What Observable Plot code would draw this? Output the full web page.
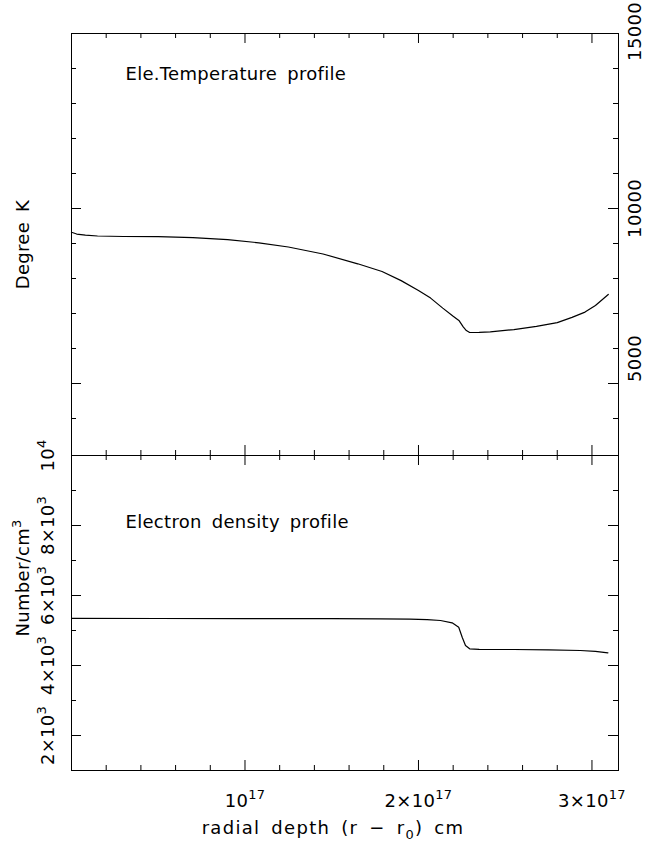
<!DOCTYPE html>
<html><head><meta charset="utf-8">
<script src="https://cdn.jsdelivr.net/npm/d3@7"></script>
<script src="https://cdn.jsdelivr.net/npm/@observablehq/plot@0.6"></script>
<style>
body{margin:0;background:#fff;}
#wrap{width:645px;height:843px;}
#wrap svg{overflow:visible;display:block;}
#wrap text{letter-spacing:0.3px;word-spacing:4px;}
#wrap text.wide{letter-spacing:1.3px;}
</style></head><body><div id="wrap"></div>
<script>
// radial depth in units of 1e17 cm
const tempRadius = [0, 0.03, 0.08, 0.15, 0.3, 0.5, 0.7, 0.9, 1.08, 1.25, 1.45, 1.65, 1.79, 1.9, 2.0, 2.07, 2.14, 2.2, 2.235, 2.258, 2.276, 2.295, 2.35, 2.414, 2.55, 2.68, 2.8, 2.885, 2.96, 3.02, 3.094];
const temperature = [9320, 9270, 9240, 9215, 9200, 9195, 9170, 9110, 9020, 8900, 8700, 8420, 8200, 7940, 7660, 7440, 7154, 6920, 6790, 6620, 6514, 6457, 6462, 6477, 6540, 6630, 6740, 6890, 7040, 7230, 7545];
const densRadius = [0, 0.5, 1.0, 1.5, 1.78, 1.95, 2.05, 2.127, 2.194, 2.232, 2.252, 2.271, 2.295, 2.35, 2.549, 2.75, 2.933, 3.02, 3.092];
const density = [5345, 5343, 5340, 5337, 5334, 5325, 5310, 5286, 5220, 5094, 4809, 4571, 4477, 4462, 4457, 4445, 4429, 4405, 4363];

const xMajor = [1, 2, 3];
const xMinor = [0.2, 0.4, 0.6, 0.8, 1.2, 1.4, 1.6, 1.8, 2.2, 2.4, 2.6, 2.8];
const xLabels = ["10^{17}", "2×10^{17}", "3×10^{17}"];
const tMajor = [5000, 10000, 15000];
const tMinor = [4000, 6000, 7000, 8000, 9000, 11000, 12000, 13000, 14000];
const tLabels = ["5000", "10000", "15000"];
const nMajor = [2000, 4000, 6000, 8000, 10000];
const nMinor = [3000, 5000, 7000, 9000];
const nLabels = ["2×10^{3}", "4×10^{3}", "6×10^{3}", "8×10^{3}", "10^{4}"];

const FONT = "DejaVu Sans";
const FS = 18;
const W = 645, ML = 71, MR = 27;
const PW = W - ML - MR;
const MAJ = 10, MIN = 5;
const xDomain = [0, 3.153];
// label shifts along the right axis, as drawn in the original
const tLabelShift = [-25, 0, -2];

function rich(svg) {
  svg.querySelectorAll("text").forEach(t => {
    const s = t.textContent;
    if (!/[\^_]\{/.test(s)) return;
    t.textContent = "";
    const re = /([\^_])\{([^}]*)\}/g;
    let last = 0, m, shift = 0;
    const add = (str, kind) => {
      if (!str) return;
      const ts = document.createElementNS("http://www.w3.org/2000/svg", "tspan");
      ts.textContent = str;
      let target = kind === "^" ? -8 : kind === "_" ? 5 : 0;
      if (target !== shift) { ts.setAttribute("dy", (target - shift) + "px"); shift = target; }
      if (kind) ts.setAttribute("font-size", "72%");
      t.appendChild(ts);
    };
    while ((m = re.exec(s))) { add(s.slice(last, m.index), null); add(m[2], m[1]); last = re.lastIndex; }
    add(s.slice(last), null);
  });
}

const tx = {fontFamily: FONT, fontSize: FS, fill: "black", stroke: "none"};

function ticks(h, yMajor, yMinor) {
  return [
    Plot.tickX(xMajor, {x: d => d, insetTop: h - MAJ}),
    Plot.tickX(xMinor, {x: d => d, insetTop: h - MIN}),
    Plot.tickX(xMajor, {x: d => d, insetBottom: h - MAJ}),
    Plot.tickX(xMinor, {x: d => d, insetBottom: h - MIN}),
    Plot.tickY(yMajor, {y: d => d, insetRight: PW - MAJ}),
    Plot.tickY(yMinor, {y: d => d, insetRight: PW - MIN}),
    Plot.tickY(yMajor, {y: d => d, insetLeft: PW - MAJ}),
    Plot.tickY(yMinor, {y: d => d, insetLeft: PW - MIN})
  ];
}

const H1 = 455, MT1 = 33, h1 = H1 - MT1;
const topPanel = Plot.plot({
  width: W, height: H1, marginLeft: ML, marginRight: MR, marginTop: MT1, marginBottom: 0,
  style: {background: "transparent", color: "black"},
  x: {domain: xDomain, axis: null},
  y: {domain: [2943, 15000], axis: null},
  marks: [
    Plot.frame({stroke: "black"}),
    ...ticks(h1, tMajor, tMinor),
    Plot.line(tempRadius.map((r, i) => ({r, t: temperature[i]})), {x: "r", y: "t", stroke: "black", strokeWidth: 1.2}),
    ...tMajor.map((v, i) => Plot.text([v], {y: d => d, text: () => tLabels[i], frameAnchor: "right", dx: 22, dy: tLabelShift[i], rotate: -90, textAnchor: "middle", lineAnchor: "bottom", ...tx})),
    Plot.text(["Degree K"], {frameAnchor: "left", dx: -43, rotate: -90, textAnchor: "middle", lineAnchor: "bottom", ...tx}),
    Plot.text(["Ele.Temperature profile"], {frameAnchor: "top-left", dx: 54, dy: 46, textAnchor: "start", lineAnchor: "bottom", ...tx})
  ]
});

const H2 = 388, MB2 = 73, h2 = H2 - MB2;
const bottomPanel = Plot.plot({
  width: W, height: H2, marginLeft: ML, marginRight: MR, marginTop: 0, marginBottom: MB2,
  style: {background: "transparent", color: "black"},
  x: {domain: xDomain, axis: null},
  y: {domain: [1000, 10000], axis: null},
  marks: [
    Plot.frame({stroke: "black"}),
    ...ticks(h2, nMajor, nMinor),
    Plot.line(densRadius.map((r, i) => ({r, n: density[i]})), {x: "r", y: "n", stroke: "black", strokeWidth: 1.2}),
    Plot.text(nMajor, {y: d => d, text: (d, i) => nLabels[i], frameAnchor: "left", dx: -18, rotate: -90, textAnchor: "middle", lineAnchor: "bottom", ...tx}),
    Plot.text(["Number/cm^{3}"], {frameAnchor: "left", dx: -43, dy: -35, rotate: -90, textAnchor: "middle", lineAnchor: "bottom", ...tx}),
    Plot.text(["Electron density profile"], {frameAnchor: "top-left", dx: 54, dy: 72, textAnchor: "start", lineAnchor: "bottom", ...tx}),
    Plot.text(xMajor, {x: d => d, text: (d, i) => xLabels[i], frameAnchor: "bottom", dy: 36, textAnchor: "middle", lineAnchor: "bottom", ...tx}),
    Plot.text(["radial depth (r − r_{0}) cm"], {frameAnchor: "bottom", dx: -12, dy: 63, textAnchor: "middle", lineAnchor: "bottom", className: "xtitle", ...tx})
  ]
});

const wrap = document.getElementById("wrap");
wrap.appendChild(topPanel);
wrap.appendChild(bottomPanel);
rich(topPanel); rich(bottomPanel);
bottomPanel.querySelectorAll(".xtitle text").forEach(t => t.classList.add("wide"));
</script>
</body></html>
